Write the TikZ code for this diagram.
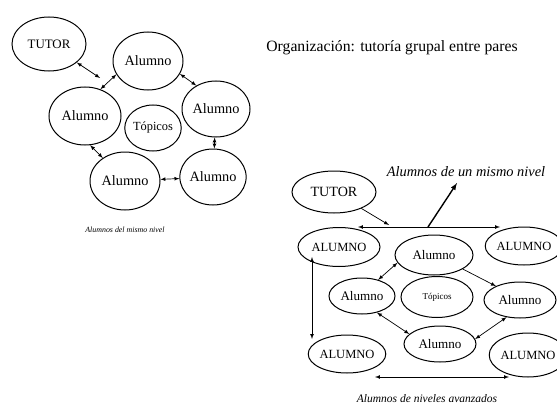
\documentclass[tikz,border=0pt]{standalone}
\usepackage{fontspec}
\setmainfont{Liberation Serif}
\usetikzlibrary{shapes.geometric, positioning, arrows}

\begin{document}
\begin{tikzpicture}
	[x=1pt, y=-1pt, on grid, >=latex,
	 bubble/.style={ellipse, draw, line width=1pt, inner sep=0pt},
	 lbl/.style={font=\fontsize{#1}{#1}\selectfont, inner sep=0pt},
	 ilbl/.style={font=\fontsize{#1}{#1}\selectfont\itshape, inner sep=0pt},
	 link/.style={<->, line width=0.7pt}]
   \useasboundingbox (0,0) rectangle (557,404);
   \node[lbl=15.7] (title) at (392,48) {Organización: tutoría grupal entre pares};

   \node[bubble, lbl=12.9, minimum width=74pt, minimum height=54pt] (t1) at (49,44) {TUTOR};
   \node[bubble, lbl=14.3, minimum width=70pt, minimum height=58pt] (a1) [below right=17pt and 99pt of t1] {Alumno};
   \node[bubble, lbl=14.3, minimum width=72pt, minimum height=58pt] (a2) [below right=72pt and 36pt of t1] {Alumno};
   \node[bubble, lbl=14.3, minimum width=68pt, minimum height=56pt] (a3) [below right=48pt and 68pt of a1] {Alumno};
   \node[bubble, lbl=12.4, minimum width=50pt, minimum height=46pt] (top1) [below right=67pt and 5pt of a1] {Tópicos};
   \node[bubble, lbl=14.3, minimum width=70pt, minimum height=58pt] (a4) [below right=65pt and 40pt of a2] {Alumno};
   \node[bubble, lbl=14.3, minimum width=66pt, minimum height=56pt] (a5) [below left=68pt and 3pt of a3] {Alumno};
   \node[ilbl=7.9] (cap1) [below=49pt of a4] {Alumnos del mismo nivel};
   \coordinate (c1) at (100,78);

   \path[link]
    (t1) edge (c1)
    (a2.60) edge (a1.-157)
    (a1.-22) edge (a3.130)
    (a3) edge (a5)
    (a4) edge (a5)
    (a2.-80) edge (a4.134);

   \node[bubble, lbl=14.1, minimum width=84pt, minimum height=42pt] (t2) at (334,192) {TUTOR};
   \node[bubble, lbl=12.5, minimum width=82pt, minimum height=39pt] (A1) [below right=55pt and 5pt of t2] {ALUMNO};
   \node[bubble, lbl=13.1, minimum width=78pt, minimum height=40pt] (b1) [below right=8pt and 95pt of A1] {Alumno};
   \node[bubble, lbl=12.5, minimum width=72pt, minimum height=38pt] (A2) [above right=9pt and 90pt of b1] {ALUMNO};
   \node[bubble, lbl=13.1, minimum width=66pt, minimum height=36pt] (b2) [below left=41pt and 72pt of b1] {Alumno};
   \node[bubble, lbl=9, minimum width=72pt, minimum height=41pt] (top2) [below right=42pt and 3pt of b1] {Tópicos};
   \node[bubble, lbl=13.1, minimum width=72pt, minimum height=36pt] (b3) [below right=45pt and 86pt of b1] {Alumno};
   \node[bubble, lbl=13.1, minimum width=72pt, minimum height=36pt] (b4) [below right=48pt and 78pt of b2] {Alumno};
   \node[bubble, lbl=12.5, minimum width=76pt, minimum height=38pt] (A3) [below left=58pt and 15pt of b2] {ALUMNO};
   \node[bubble, lbl=12.5, minimum width=72pt, minimum height=44pt] (A4) [below right=55pt and 8pt of b3] {ALUMNO};
   \node[ilbl=14.4] (cap2) at (466,172) {Alumnos de un mismo nivel};
   \node[ilbl=11.5] (cap3) at (427,399) {Alumnos de niveles avanzados};
   \coordinate (h1) at (358,227);
   \coordinate (h2) at (500,227);
   \coordinate (j1) at (389,225);
   \coordinate (k1) at (428,227);
   \coordinate (k2) at (457,183);
   \coordinate (v1) at (312,257);
   \coordinate (v2) at (312,339);
   \coordinate (w1) at (375,377);
   \coordinate (w2) at (509,377);

   \path[link]
    (h1) edge (h2)
    (v1) edge (v2)
    (w1) edge (w2)
    (b1.-168) edge (b2.45)
    (b2.-48) edge (b4.162)
    (b4.8) edge (b3.-128);
   \path[->, line width=0.7pt]
    (t2) edge (j1)
    (b1.-26) edge (b3.150);
   \draw[->, line width=1.4pt] (k1) -- (k2);
\end{tikzpicture}
\end{document}
